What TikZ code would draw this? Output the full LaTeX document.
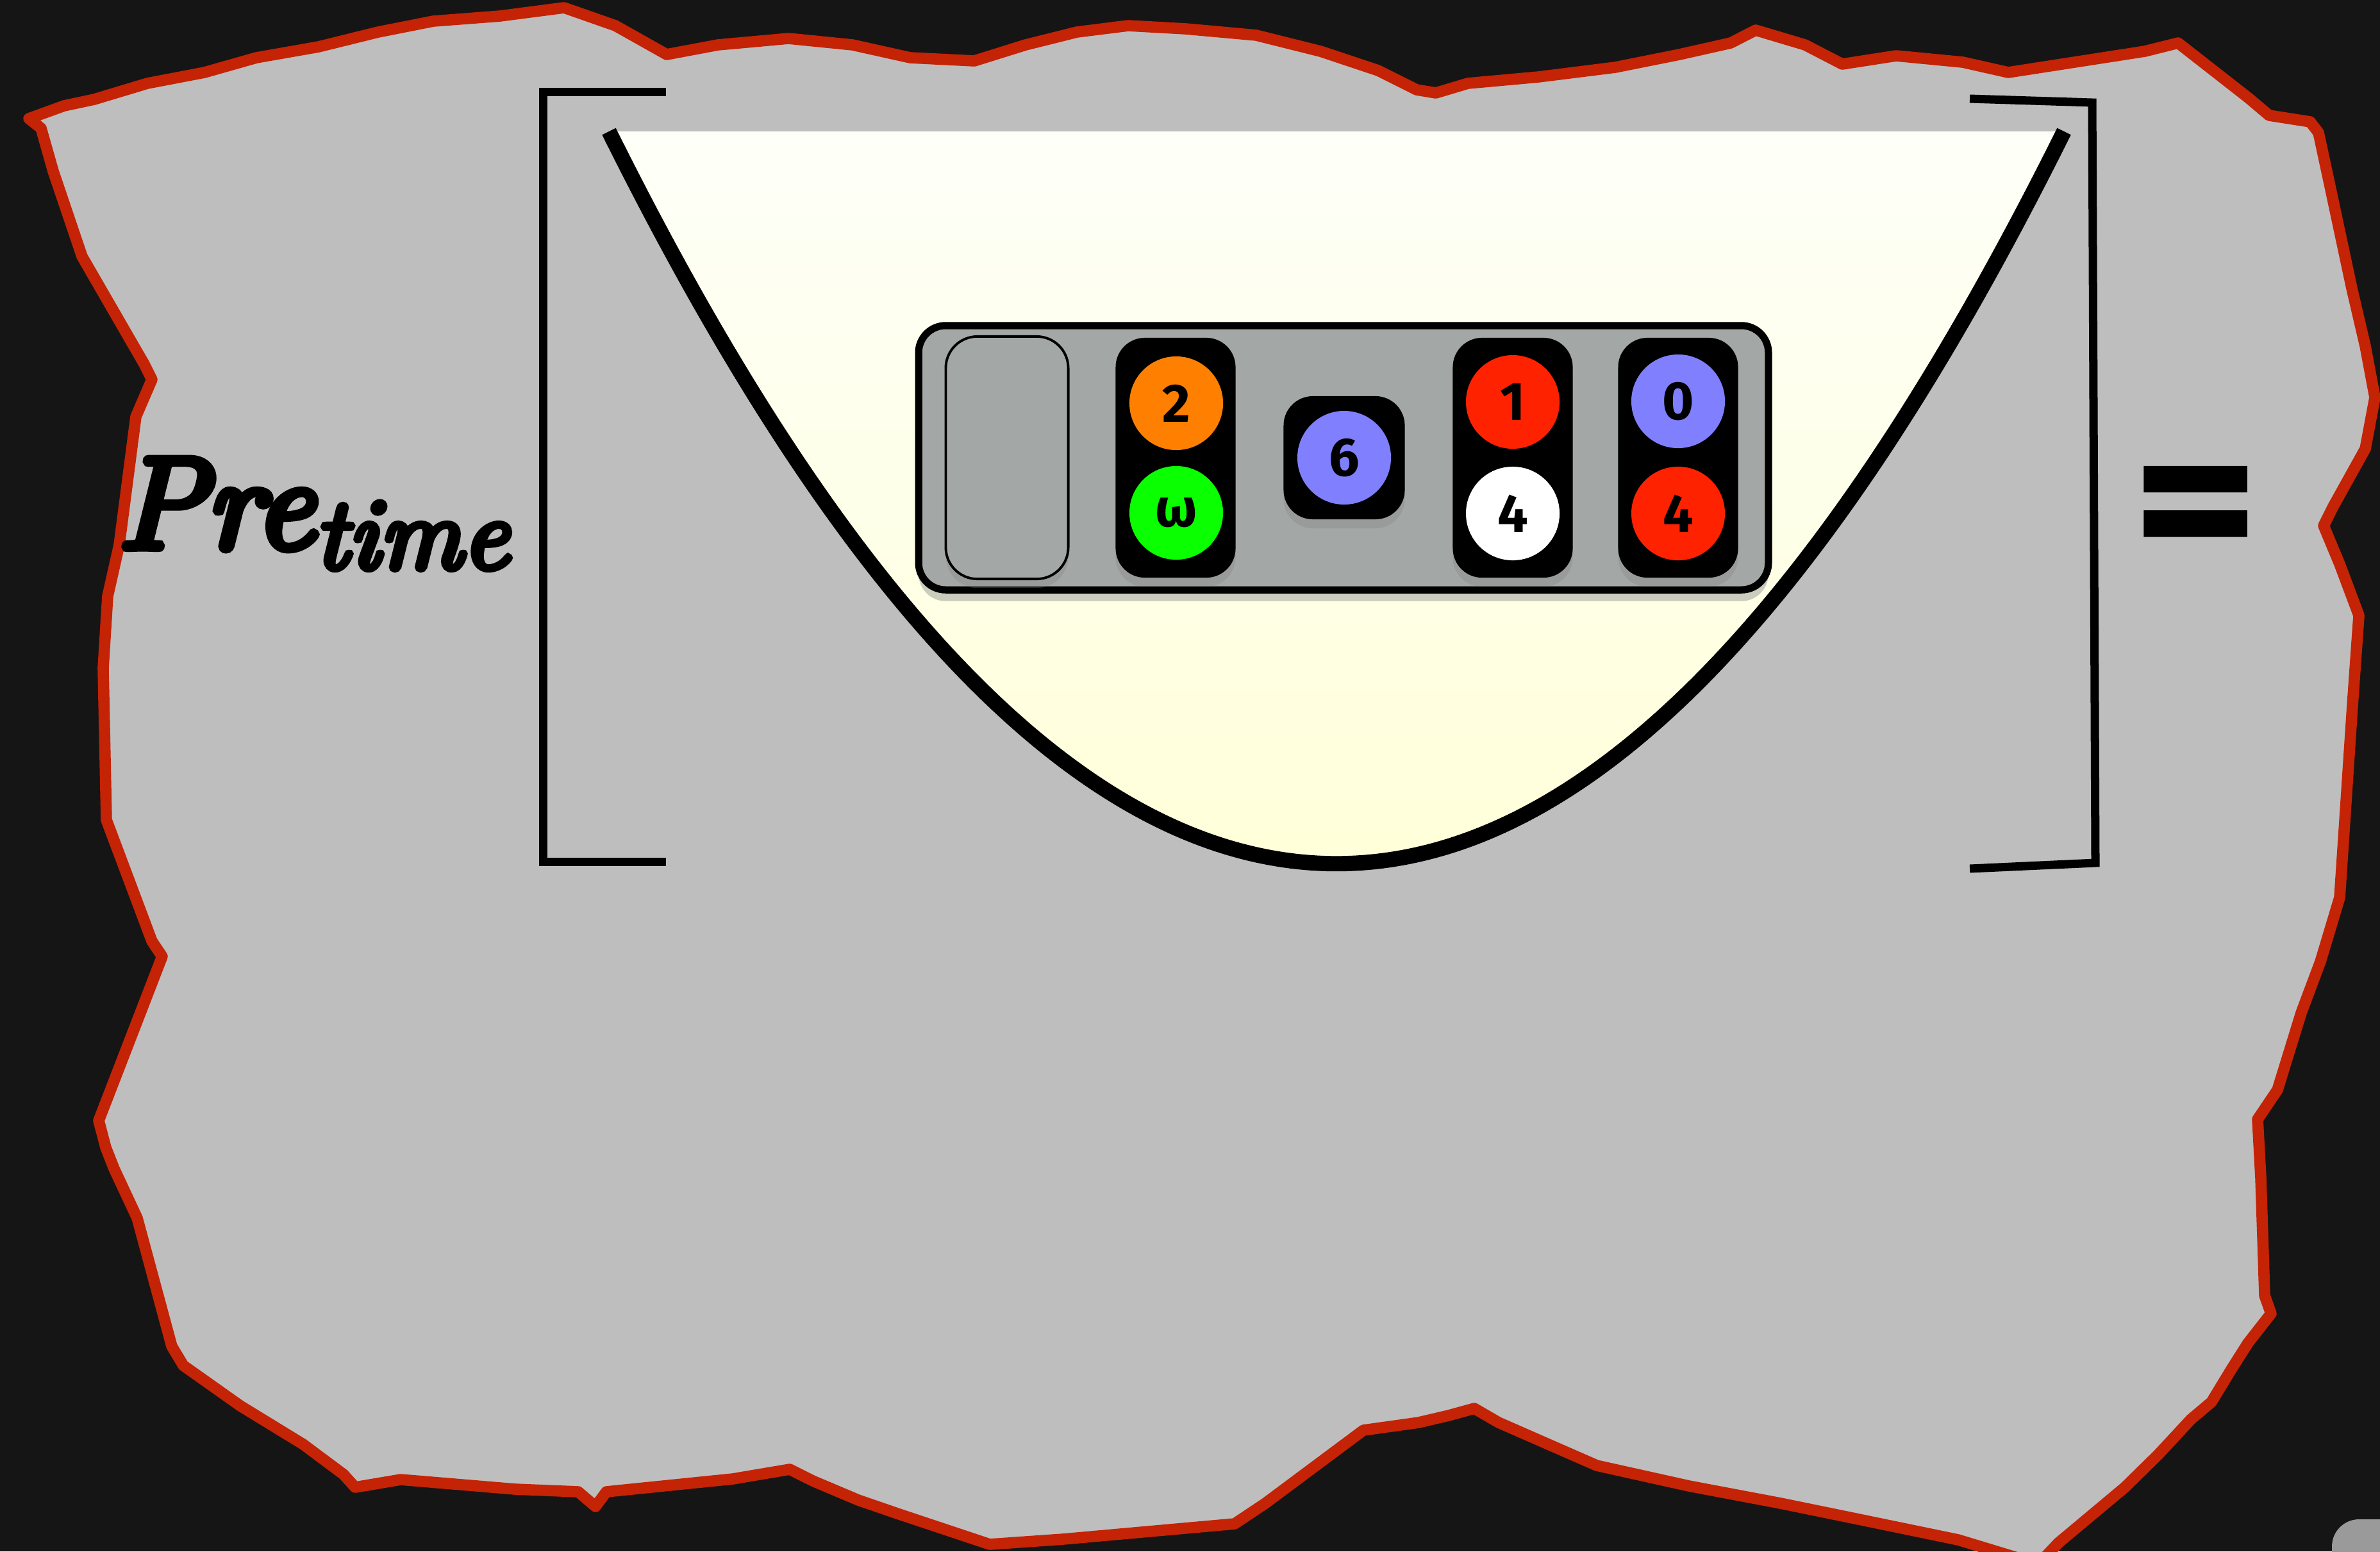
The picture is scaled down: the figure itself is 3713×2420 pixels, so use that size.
\documentclass[tikz,border=0pt]{standalone}
\usepackage{fontspec}
\newfontfamily\tokenfont{Fira Sans}
\newfontfamily\signfont{DejaVu Sans Bold}[FakeBold=1.7]
\newfontfamily\prefont{lmroman10-italic.otf}[FakeBold=6]
\usetikzlibrary{shadows}
\definecolor{board}{HTML}{151515}
\definecolor{paper}{HTML}{BEBEBE}
\definecolor{tear}{HTML}{C42306}
\definecolor{traygray}{HTML}{A3A7A6}
\definecolor{bowltop}{HTML}{FEFFF8}
\definecolor{bowlbottom}{HTML}{FFFFCF}
\definecolor{tokorange}{HTML}{FF8000}
\definecolor{tokgreen}{HTML}{0AFF00}
\definecolor{tokblue}{HTML}{8080FF}
\definecolor{tokred}{HTML}{FF2200}
\definecolor{badge}{HTML}{9A9A9A}

\begin{document}
\begin{tikzpicture}[x=0.01cm, y=-0.01cm,
  tray/.style={draw, line width=3.2pt, fill=traygray, rounded corners=12pt, minimum width=13.25cm, minimum height=4.12cm, drop shadow={opacity=0.4, shadow xshift=0pt, shadow yshift=-5pt}},
  slot/.style={draw, line width=1.1pt, fill=traygray, rounded corners=14pt, minimum width=1.91cm, minimum height=3.78cm, drop shadow={opacity=0.3, shadow xshift=0pt, shadow yshift=-4pt}},
  stack/.style={fill=black, rounded corners=13pt, minimum width=1.87cm, minimum height=3.74cm, drop shadow={opacity=0.3, shadow xshift=0pt, shadow yshift=-4pt}},
  single/.style={fill=black, rounded corners=13pt, minimum width=1.89cm, minimum height=1.92cm, drop shadow={opacity=0.3, shadow xshift=0pt, shadow yshift=-4pt}},
  token/.style={circle, minimum size=1.46cm, inner sep=0pt, font=\tokenfont\bfseries\fontsize{24}{24}\selectfont},
  bracket/.style={line width=3.7pt}
]
  \fill[board] (0,0) rectangle (3713,2420);
  \clip (0,0) rectangle (3713,2420);

  % torn sheet
  \draw[tear, line width=5pt, line join=round, fill=paper]
    (45,185) -- (100,165) -- (147,155) -- (230,130) -- (319,113) -- (400,90) -- (497,73) -- (590,50)
    -- (676,33) -- (780,25) -- (880,12) -- (960,40) -- (1040,85) -- (1120,70) -- (1230,60) -- (1330,70)
    -- (1420,90) -- (1520,95) -- (1600,70) -- (1680,50) -- (1760,40) -- (1850,45) -- (1960,55) -- (2060,80)
    -- (2150,110) -- (2210,140) -- (2240,145) -- (2290,130) -- (2400,120) -- (2520,105) -- (2620,85)
    -- (2700,67) -- (2739,47) -- (2816,70) -- (2874,100) -- (2958,87) -- (3062,97) -- (3133,113)
    -- (3217,100) -- (3346,80) -- (3398,67) -- (3462,117) -- (3508,153) -- (3540,180) -- (3604,190)
    -- (3617,207) -- (3637,300) -- (3669,450) -- (3690,540) -- (3705,620) -- (3690,700) -- (3640,790)
    -- (3625,820) -- (3650,880) -- (3680,960) -- (3670,1100) -- (3660,1250) -- (3650,1400) -- (3620,1500)
    -- (3590,1580) -- (3553,1700) -- (3522,1746) -- (3527,1838) -- (3533,2021) -- (3543,2049) -- (3507,2095)
    -- (3481,2136) -- (3450,2187) -- (3418,2214) -- (3367,2269) -- (3315,2320) -- (3211,2407) -- (3180,2440)
    -- (3055,2402) -- (2900,2370) -- (2778,2345) -- (2635,2318) -- (2491,2286) -- (2338,2219) -- (2300,2197)
    -- (2260,2208) -- (2213,2219) -- (2127,2231) -- (1974,2345) -- (1926,2377) -- (1658,2401) -- (1544,2409)
    -- (1400,2361) -- (1339,2340) -- (1268,2310) -- (1232,2292) -- (1143,2307) -- (946,2327) -- (929,2350)
    -- (902,2327) -- (804,2323) -- (625,2308) -- (554,2320) -- (536,2300) -- (473,2253) -- (375,2193)
    -- (286,2130) -- (268,2100) -- (214,1900) -- (178,1823) -- (165,1790) -- (154,1748) -- (253,1492)
    -- (237,1468) -- (166,1279) -- (161,1042) -- (168,930) -- (186,850) -- (212,650) -- (237,592)
    -- (225,568) -- (128,400) -- (83,267) -- (64,200) -- cycle;

  \fill[badge, rounded corners=12pt] (3638,2370) rectangle (3800,2500);

  % bowl
  \shade[top color=bowltop, bottom color=bowlbottom] (950,205) .. controls (1707,1728) and (2463,1728) .. (3220,205) -- cycle;
  \draw[line width=6.8pt] (950,205) .. controls (1707,1728) and (2463,1728) .. (3220,205);

  \draw[bracket] (1039,143) -- (847,143) -- (847,1344) -- (1039,1344);
  \draw[bracket] (3073,154) -- (3264,160) -- (3269,1346) -- (3073,1355);

  \node[anchor=base west, inner sep=0pt, font=\prefont] (pre) at (182,855)
    {{\fontsize{58}{60}\selectfont Pre}\raisebox{-9pt}{\fontsize{45}{45}\selectfont time}};
  \node[anchor=base, inner sep=0pt, font=\signfont\fontsize{60}{60}\selectfont] (equals) at (3425,880)
    {\scalebox{1.19}[1.48]{=}};

  \node[tray] (tray) at (2096,714) {};
  \node[slot] (empty) at (1571,714) {};
  \node[stack] (first) at (1834,714) {};
  \node[single] (middle) at (2097,714) {};
  \node[stack] (third) at (2360,714) {};
  \node[stack] (last) at (2618,714) {};

  \node[token, fill=tokorange] (two) at (1835,629) {2};
  \node[token, fill=tokgreen] (omega) at (1835,800) {ω};
  \node[token, fill=tokblue] (six) at (2097,714) {6};
  \node[token, fill=tokred] (one) at (2360,627) {1};
  \node[token, fill=white] (four) at (2360,801) {4};
  \node[token, fill=tokblue] (zero) at (2618,626) {0};
  \node[token, fill=tokred] (fourb) at (2618,801) {4};
\end{tikzpicture}
\end{document}
